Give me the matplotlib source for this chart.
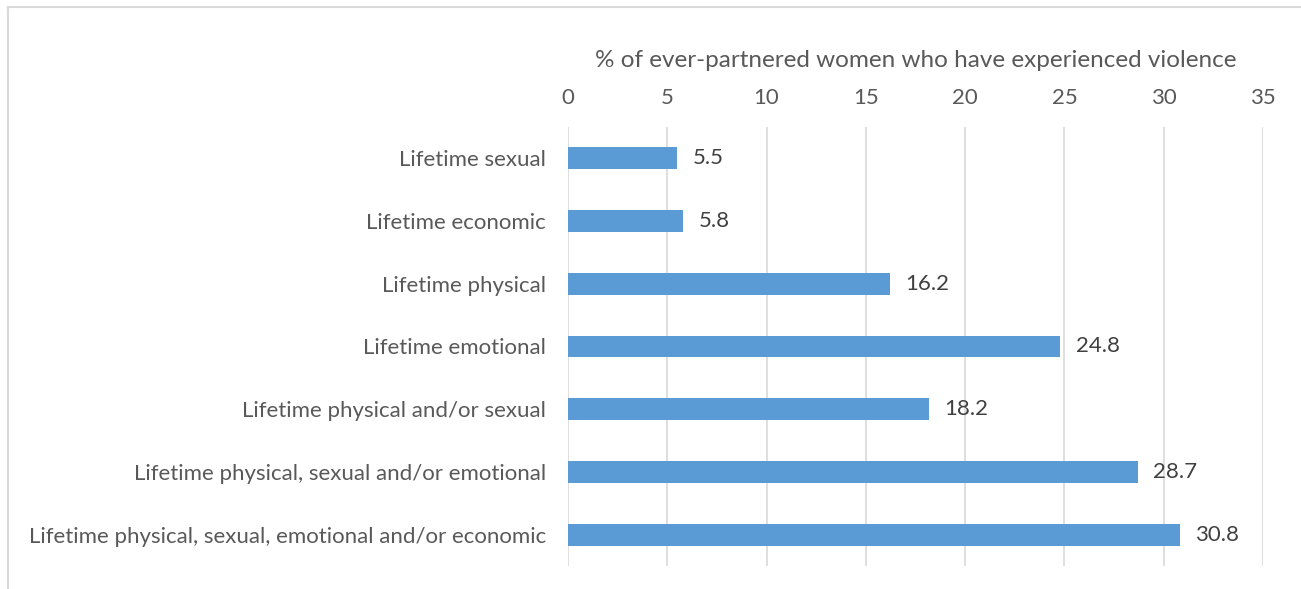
import matplotlib.pyplot as plt
from matplotlib.lines import Line2D

# Data
categories = [
    "Lifetime sexual",
    "Lifetime economic",
    "Lifetime physical",
    "Lifetime emotional",
    "Lifetime physical and/or sexual",
    "Lifetime physical, sexual and/or emotional",
    "Lifetime physical, sexual, emotional and/or economic",
]
values = [5.5, 5.8, 16.2, 24.8, 18.2, 28.7, 30.8]
x_ticks = [0, 5, 10, 15, 20, 25, 30, 35]

plt.rcParams["font.family"] = ["Lato", "DejaVu Sans"]

W, H = 1301, 589
fig = plt.figure(figsize=(W / 100, H / 100), dpi=100)
ax = fig.add_axes([568 / W, 1 - 566 / H, (1263 - 568) / W, (566 - 127) / H])

y = list(range(len(categories)))
ax.barh(y, values, height=0.35, color="#5B9BD5", zorder=3)
ax.set_ylim(len(categories) - 0.5, -0.5)
ax.set_xlim(0, 35)

for yi, v in zip(y, values):
    ax.annotate(f"{v}", (v, yi), xytext=(11, 0), textcoords="offset points",
                va="center", ha="left", fontsize=16, color="#404040")

ax.set_yticks(y)
ax.set_yticklabels(categories, fontsize=16, color="#595959")
ax.xaxis.tick_top()
ax.xaxis.set_label_position("top")
ax.set_xticks(x_ticks)
ax.set_xticklabels([str(t) for t in x_ticks], fontsize=16, color="#595959")
ax.set_xlabel("% of ever-partnered women who have experienced violence",
              fontsize=17.5, color="#595959", labelpad=15)
ax.tick_params(axis="x", length=0, pad=14)
ax.tick_params(axis="y", length=0, pad=16)
ax.grid(axis="x", color="#D9D9D9", linewidth=1.2, zorder=0)
for s in ax.spines.values():
    s.set_visible(False)

# Chart frame (only top and left edges visible in the crop)
fig.add_artist(Line2D([8 / W, 1], [1 - 7 / H, 1 - 7 / H], color="#D9D9D9", linewidth=1.5))
fig.add_artist(Line2D([8 / W, 8 / W], [0, 1 - 7 / H], color="#D9D9D9", linewidth=1.5))

plt.savefig("out.png", dpi=100)
